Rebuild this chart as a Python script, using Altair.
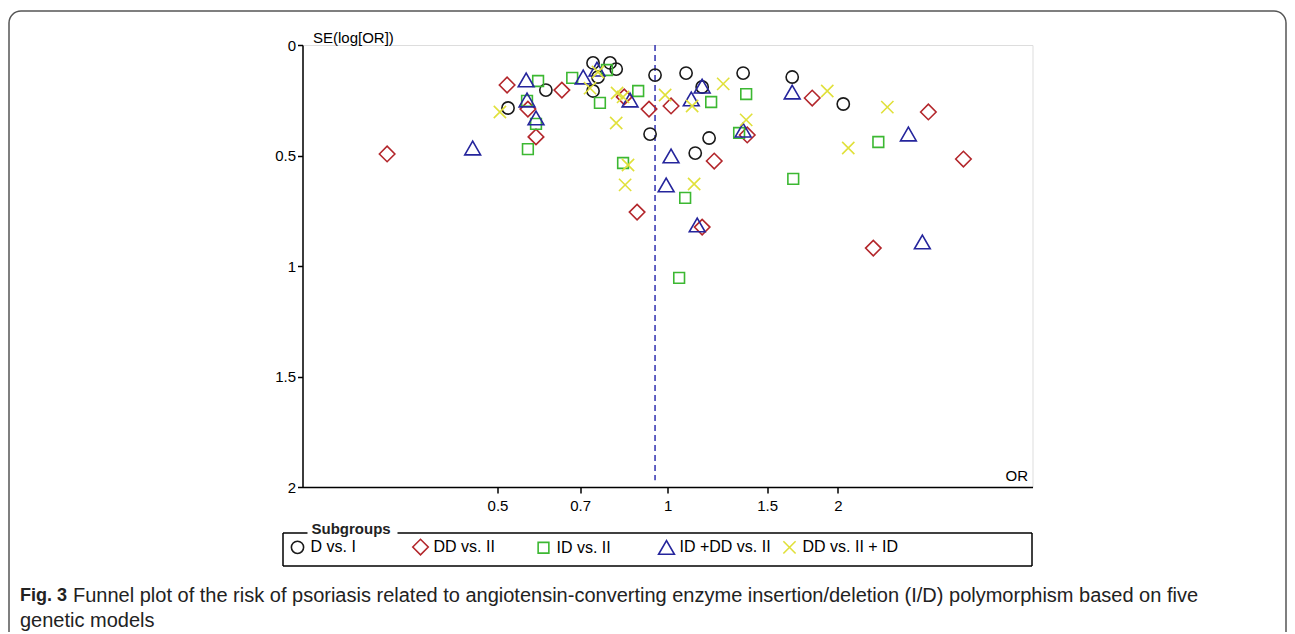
import altair as alt
import pandas as pd

# ---------------- data ----------------
GROUPS = ["D vs. I", "DD vs. II", "ID vs. II", "ID +DD vs. II", "DD vs. II + ID"]
COLORS = ["#1a1a1a", "#b3262b", "#3cb832", "#25259c", "#e0e03a"]
SHAPES = ["circle", "diamond", "square", "triangle-up", "M-1,-1L1,1M-1,1L1,-1"]
SIZES = [150, 240, 115, 250, 150]

D_VS_I_OR = [0.522, 0.609, 0.738, 0.791, 0.811, 0.753, 0.738, 0.950, 0.931, 1.078, 1.151, 1.360, 1.661, 2.045, 1.184, 1.119]
D_VS_I_SE = [0.285, 0.204, 0.081, 0.081, 0.109, 0.145, 0.208, 0.136, 0.403, 0.127, 0.190, 0.127, 0.145, 0.267, 0.421, 0.489]

DD_VS_II_OR = [0.319, 0.520, 0.566, 0.585, 0.650, 0.838, 0.927, 1.014, 0.883, 1.209, 1.383, 1.802, 2.892, 3.336, 1.151, 2.311]
DD_VS_II_SE = [0.493, 0.181, 0.290, 0.416, 0.204, 0.235, 0.290, 0.276, 0.756, 0.525, 0.407, 0.240, 0.303, 0.516, 0.824, 0.919]

ID_VS_II_OR = [0.590, 0.564, 0.585, 0.566, 0.678, 0.759, 0.781, 0.887, 0.834, 1.194, 1.377, 1.338, 1.074, 1.048, 1.668, 2.359]
ID_VS_II_SE = [0.163, 0.253, 0.357, 0.471, 0.149, 0.262, 0.113, 0.208, 0.534, 0.258, 0.222, 0.398, 0.692, 1.054, 0.606, 0.439]

IDDD_VS_II_OR = [0.452, 0.562, 0.564, 0.585, 0.709, 0.750, 0.858, 1.151, 1.014, 0.994, 1.101, 1.360, 1.661, 2.666, 1.128, 2.822]
IDDD_VS_II_SE = [0.466, 0.158, 0.249, 0.330, 0.145, 0.109, 0.249, 0.186, 0.502, 0.633, 0.244, 0.385, 0.213, 0.403, 0.814, 0.891]

DD_VS_IIID_OR = [0.505, 0.729, 0.753, 0.814, 0.834, 0.811, 0.851, 0.841, 0.990, 1.105, 1.254, 1.377, 1.114, 1.916, 2.087, 2.447]
DD_VS_IIID_SE = [0.303, 0.195, 0.122, 0.217, 0.235, 0.353, 0.543, 0.633, 0.226, 0.276, 0.176, 0.339, 0.629, 0.208, 0.466, 0.281]

POOLED_OR = 0.95
X_TICKS = [0.5, 0.7, 1, 1.5, 2]
Y_TICKS = [0, 0.5, 1, 1.5, 2]
X_DOMAIN = [0.226, 4.42]
Y_DOMAIN = [0, 2]

CAPTION_BOLD = "Fig. 3"
CAPTION_LINE1 = ("Funnel plot of the risk of psoriasis related to angiotensin-converting enzyme "
                 "insertion/deletion (I/D) polymorphism based on five")
CAPTION_LINE2 = "genetic models"
LEGEND_TITLE = "Subgroups"

# ---------------- table ----------------
series = [
    (GROUPS[0], D_VS_I_OR, D_VS_I_SE),
    (GROUPS[1], DD_VS_II_OR, DD_VS_II_SE),
    (GROUPS[2], ID_VS_II_OR, ID_VS_II_SE),
    (GROUPS[3], IDDD_VS_II_OR, IDDD_VS_II_SE),
    (GROUPS[4], DD_VS_IIID_OR, DD_VS_IIID_SE),
]
rows = []
for g, ors, ses in series:
    for o, s in zip(ors, ses):
        rows.append({"or": o, "se": s, "group": g})
df = pd.DataFrame(rows)

FONT = "Liberation Sans"
W, H = 730, 442

legend = alt.Legend(
    title=None, orient="none", legendX=-14, legendY=493, direction="horizontal",
    columns=5, gridAlign="all", columnPadding=2, labelFontSize=16, labelFont=FONT,
    labelColor="black", symbolStrokeWidth=1.6, labelOffset=4, padding=0,
)

x_scale = alt.Scale(type="log", domain=X_DOMAIN, nice=False)
y_scale = alt.Scale(domain=Y_DOMAIN, reverse=True, nice=False, zero=True)

x_axis = alt.Axis(
    values=X_TICKS, format=".1~f", title="OR", titleX=725, titleY=-7,
    titleAlign="right", titleBaseline="alphabetic", titleFontWeight="normal",
    titleFontSize=15, titleFont=FONT, labelFontSize=15, labelFont=FONT,
    labelColor="black", titleColor="black", tickSize=6, labelPadding=5,
    domainColor="black", tickColor="black", domainWidth=1.5, tickWidth=1.5,
    grid=False,
)
y_axis = alt.Axis(
    values=Y_TICKS, format=".1~f", title="SE(log[OR])", titleAngle=0, titleX=10,
    titleY=-3, titleAlign="left", titleBaseline="alphabetic", titleFontWeight="normal",
    titleFontSize=15, titleFont=FONT, labelFontSize=15, labelFont=FONT,
    labelColor="black", titleColor="black", tickSize=5, labelPadding=2,
    domainColor="black", tickColor="black", domainWidth=1.5, tickWidth=1.5,
    grid=False,
)

points = alt.Chart(df).mark_point(filled=False, strokeWidth=1.6, opacity=1).encode(
    x=alt.X("or:Q", scale=x_scale, axis=x_axis),
    y=alt.Y("se:Q", scale=y_scale, axis=y_axis),
    color=alt.Color("group:N", scale=alt.Scale(domain=GROUPS, range=COLORS), legend=legend),
    shape=alt.Shape("group:N", scale=alt.Scale(domain=GROUPS, range=SHAPES), legend=legend),
    size=alt.Size("group:N", scale=alt.Scale(type="ordinal", domain=GROUPS, range=SIZES), legend=legend),
)

pooled = alt.Chart(pd.DataFrame({"or": [POOLED_OR], "top": [0.0], "bottom": [1.97]})).mark_rule(
    color="#3030b0", strokeDash=[6, 4], strokeWidth=1.5
).encode(x="or:Q", y="top:Q", y2="bottom:Q")

one = pd.DataFrame({"k": [0]})

frame = alt.Chart(one).mark_rect(fillOpacity=0, stroke="#555555", strokeWidth=1.5, cornerRadius=12).encode(
    x=alt.value(-293.5), x2=alt.value(983.5), y=alt.value(-34), y2=alt.value(720)
)

box_left = alt.Chart(one).mark_rule(color="black", strokeWidth=1.5).encode(
    x=alt.value(-19.5), y=alt.value(488), y2=alt.value(521))
box_right = alt.Chart(one).mark_rule(color="black", strokeWidth=1.5).encode(
    x=alt.value(729.5), y=alt.value(488), y2=alt.value(521))
box_bottom = alt.Chart(one).mark_rule(color="black", strokeWidth=1.5).encode(
    x=alt.value(-19.5), x2=alt.value(729.5), y=alt.value(521))
box_top1 = alt.Chart(one).mark_rule(color="black", strokeWidth=1.5).encode(
    x=alt.value(-19.5), x2=alt.value(5), y=alt.value(488))
box_top2 = alt.Chart(one).mark_rule(color="black", strokeWidth=1.5).encode(
    x=alt.value(95), x2=alt.value(729.5), y=alt.value(488))

legend_title = alt.Chart(pd.DataFrame({"t": [LEGEND_TITLE]})).mark_text(
    align="left", baseline="middle", font=FONT, fontSize=15, fontWeight="bold", color="#222222"
).encode(x=alt.value(9), y=alt.value(484), text="t:N")

cap_bold = alt.Chart(pd.DataFrame({"t": [CAPTION_BOLD]})).mark_text(
    align="left", baseline="middle", font=FONT, fontSize=18, fontWeight="bold", color="#222222"
).encode(x=alt.value(-282.5), y=alt.value(551), text="t:N")
cap_1 = alt.Chart(pd.DataFrame({"t": [CAPTION_LINE1]})).mark_text(
    align="left", baseline="middle", font=FONT, fontSize=20, color="#222222"
).encode(x=alt.value(-229.5), y=alt.value(551), text="t:N")
cap_2 = alt.Chart(pd.DataFrame({"t": [CAPTION_LINE2]})).mark_text(
    align="left", baseline="middle", font=FONT, fontSize=20, color="#222222"
).encode(x=alt.value(-282.5), y=alt.value(576), text="t:N")

chart = alt.layer(
    frame, pooled, points, box_left, box_right, box_bottom, box_top1, box_top2,
    legend_title, cap_bold, cap_1, cap_2
).properties(
    width=W, height=H,
    autosize=alt.AutoSizeParams(type="none"),
    padding={"left": 294.5, "top": 37, "right": 254.5, "bottom": 145},
).configure_view(strokeWidth=0).configure(font=FONT)

chart.save("out.html", embed_options={"renderer": "svg", "actions": False})
